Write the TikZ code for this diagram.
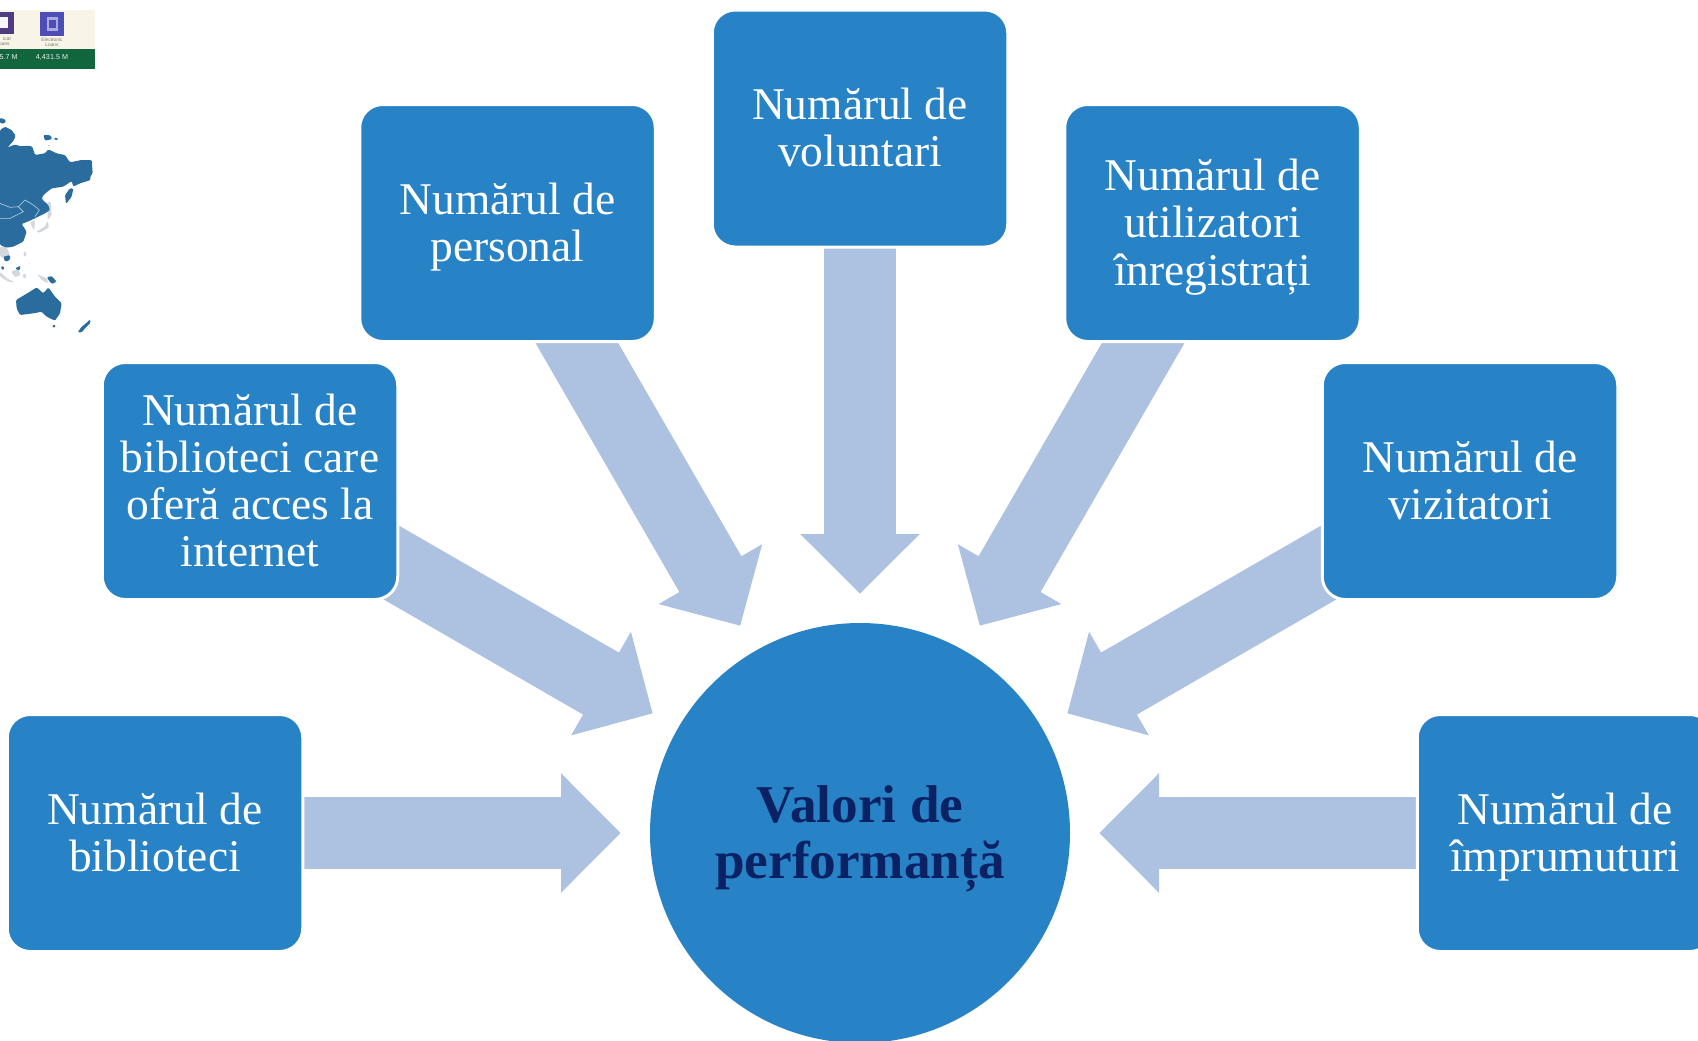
\documentclass[tikz,border=0pt]{standalone}
\usepackage{fontspec}
\setmainfont{Liberation Serif}
\newfontfamily\thumbfont{Liberation Sans}
\usetikzlibrary{calc,backgrounds}
\definecolor{boxblue}{HTML}{2882C6}
\definecolor{arrowblue}{HTML}{ADC1E0}
\definecolor{hubtext}{HTML}{0A2263}
\definecolor{mapblue}{HTML}{2B6C9E}
\definecolor{mapgrey}{HTML}{D3D8DC}
\definecolor{cream}{HTML}{F8F5E8}
\definecolor{bandgreen}{HTML}{11663E}
\definecolor{thumbpurple}{HTML}{4F3D80}
\definecolor{thumbindigo}{HTML}{4D4DB5}
\definecolor{thumbpale}{HTML}{A9A9DE}
\tikzset{
  x=0.5pt,y=-0.5pt,
  infobox/.style={draw=white,line width=1.5pt,fill=boxblue,rounded corners=11.5pt,
    minimum width=147.75pt,minimum height=118.5pt,inner sep=0pt,align=center,
    text=white,font=\fontsize{22.7}{23.6}\selectfont},
  hubnode/.style={circle,fill=boxblue,minimum size=210pt,inner sep=0pt,align=center,
    text=hubtext,font=\fontsize{26.6}{28}\selectfont\bfseries},
  blockfill/.style={fill=arrowblue,draw=none},
  mapland/.style={fill=mapblue,draw=none,rounded corners=0.6pt},
  mapother/.style={fill=mapgrey,draw=none,rounded corners=0.6pt},
  mapborder/.style={draw=white!70!mapblue,line width=0.3pt},
  thumbtext/.style={inner sep=0pt,text=black!55,font=\thumbfont\fontsize{2.4}{2.8}\selectfont,align=center},
  thumbvalue/.style={inner sep=0pt,text=white!90!bandgreen,font=\thumbfont\fontsize{3.6}{4.4}\selectfont}
}
% first-line struts that place the text block as in the reference
\newcommand{\boxtop}{\rule{0pt}{21.9pt}}
\newcommand{\hubtop}{\rule{0pt}{26.1pt}}
% block arrow from a node towards the hub
\newcommand{\blockarrow}[1]{%
  \coordinate (tipc) at ($(hub.center)!119.75pt!(#1.center)$);
  \coordinate (neckc) at ($(hub.center)!149.5pt!(#1.center)$);
  \fill[blockfill] (tipc)
    -- ($(neckc)!29.9pt!90:(hub.center)$)
    -- ($(neckc)!17.9pt!90:(hub.center)$)
    -- ($(#1.center)!17.9pt!90:(hub.center)$)
    -- ($(#1.center)!17.9pt!-90:(hub.center)$)
    -- ($(neckc)!17.9pt!-90:(hub.center)$)
    -- ($(neckc)!29.9pt!-90:(hub.center)$)
    -- cycle;}
\begin{document}
\begin{tikzpicture}
\useasboundingbox (0,0) rectangle (1698,1040);
\clip (0,0) rectangle (1698,1040);
% thumbnail dashboard
\fill[cream] (0,10) rectangle (95,49);
\fill[bandgreen] (0,49) rectangle (95,68.5);
\fill[thumbpurple] (0,12) rectangle (14,34);
\fill[white!90!thumbpale] (0,17) rectangle (8,28);
\fill[thumbindigo] (40,12) rectangle (64,36);
\fill[thumbpale] (47,17) rectangle (58,31);
\fill[thumbindigo] (49,20) rectangle (56,28);
\node[thumbtext,anchor=east] (lbla) at (11,39) {ical};
\node[thumbtext,anchor=east] (lblb) at (10,44) {oans};
\node[thumbtext] (lblc) at (52,39.5) {Electronic};
\node[thumbtext] (lbld) at (52,44.5) {Loans};
\node[thumbvalue,anchor=east] (vala) at (18,57) {5.7 M};
\node[thumbvalue] (valb) at (52,57) {4,431.5 M};
% thumbnail map (one unit = 1/3 px, origin at y=100)
\begin{scope}[shift={(0,100)},x=0.16667pt,y=-0.16667pt]
\fill[mapother] (0,440)--(20,442)--(30,465)--(15,475)--(0,470)--cycle;
\fill[mapother] (108,395)--(135,380)--(143,362)--(147,382)--(120,398)--cycle;
\fill[mapother] (90,368)--(105,360)--(103,392)--cycle;
\fill[mapother] (143,305)--(152,305)--(155,345)--(143,360)--cycle;
\fill[mapother] (33,515)--(55,507)--(62,525)--(45,532)--cycle;
\fill[mapother] (112,522)--(140,535)--(145,550)--(125,540)--cycle;
\fill[mapother] (0,515)--(20,535)--(45,547)--(25,545)--(0,530)--cycle;
\fill[mapother] (70,455)--(78,455)--(78,470)--(72,470)--cycle;
\fill[mapother] (85,488)--(92,490)--(88,495)--cycle;
\fill[mapother] (68,522)--(78,522)--(78,535)--(70,535)--cycle;
\fill[mapland] (0,90)--(15,80)--(35,90)--(47,107)--(40,123)--(22,143)--(45,133)--(60,139)--(85,137)--(97,140)--(105,165)--(135,160)--(145,148)--(170,160)--(195,165)--(210,187)--(245,180)--(275,180)--(278,220)--(270,230)--(272,240)--(240,250)--(220,260)--(215,243)--(190,260)--(155,265)--(130,285)--(125,297)--(145,315)--(150,330)--(135,340)--(115,350)--(90,362)--(65,372)--(80,395)--(70,425)--(40,440)--(20,443)--(0,435)--cycle;
\fill[mapland] (195,285)--(210,265)--(220,265)--(215,290)--(198,312)--cycle;
\fill[mapland] (0,53)--(18,60)--(15,70)--(0,70)--cycle;
\fill[mapland] (130,105)--(150,105)--(157,117)--(135,122)--cycle;
\fill[mapland] (162,112)--(177,117)--(165,121)--cycle;
\fill[mapland] (143,135)--(150,135)--(148,140)--cycle;
\fill[mapland] (48,600)--(90,575)--(110,562)--(130,580)--(145,562)--(165,590)--(185,610)--(180,640)--(165,662)--(140,650)--(125,635)--(100,640)--(60,645)--(50,625)--cycle;
\fill[mapland] (233,697)--(245,680)--(258,670)--(270,658)--(272,668)--(255,685)--(245,697)--cycle;
\fill[mapland] (156,675)--(168,675)--(162,685)--cycle;
\fill[mapland] (140,532)--(155,528)--(170,545)--(155,552)--cycle;
\fill[mapland] (45,505)--(62,497)--(58,512)--cycle;
\fill[mapland] (10,470)--(30,465)--(30,480)--(15,485)--cycle;
\fill[mapland] (3,498)--(12,500)--(13,510)--(5,508)--cycle;
\draw[mapborder] (0,310)--(30,322)--(55,320)--(75,300)--(100,315)--(118,330)--(105,350);
\draw[mapborder] (0,355)--(30,355)--(70,335)--(55,320);
\end{scope}
% nodes
\node[hubnode] (hub) at (860,833) {\hubtop Valori de\\performanță\strut};
\node[infobox] (biblioteci) at (155,833) {\boxtop Numărul de\\biblioteci\strut};
\node[infobox] (internet) at (250,481) {\boxtop Numărul de\\biblioteci care\\oferă acces la\\internet\strut};
\node[infobox] (personal) at (507.5,223) {\boxtop Numărul de\\personal\strut};
\node[infobox] (voluntari) at (860,128.5) {\boxtop Numărul de\\voluntari\strut};
\node[infobox] (utilizatori) at (1212.5,223) {\boxtop Numărul de\\utilizatori\\înregistrați\strut};
\node[infobox] (vizitatori) at (1470,481) {\boxtop Numărul de\\vizitatori\strut};
\node[infobox] (imprumuturi) at (1565,833) {\boxtop Numărul de\\împrumuturi\strut};
% block arrows
\begin{scope}[on background layer]
\blockarrow{biblioteci}
\blockarrow{internet}
\blockarrow{personal}
\blockarrow{voluntari}
\blockarrow{utilizatori}
\blockarrow{vizitatori}
\blockarrow{imprumuturi}
\end{scope}
\end{tikzpicture}
\end{document}
